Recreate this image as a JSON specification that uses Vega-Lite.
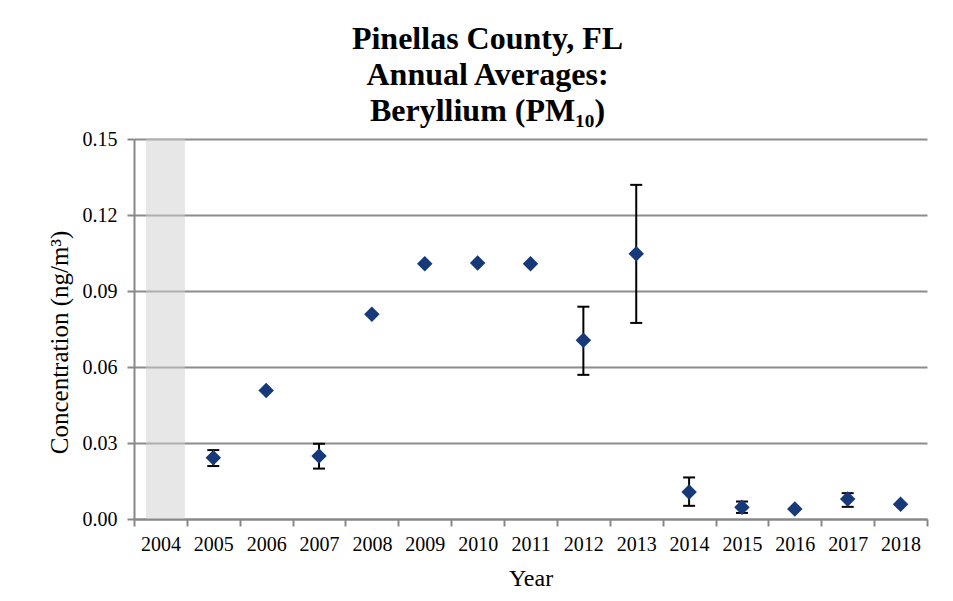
{
  "$schema": "https://vega.github.io/schema/vega-lite/v6.json",
  "autosize": "none",
  "width": 793,
  "height": 380,
  "padding": {"left": 134, "top": 139, "right": 26, "bottom": 82},
  "background": "white",
  "title": {
    "text": ["Pinellas County, FL", "Annual Averages:", "Beryllium (PM₁₀)"],
    "font": "Liberation Serif",
    "fontSize": 32,
    "fontWeight": "bold",
    "color": "black",
    "lineHeight": 36,
    "anchor": "middle",
    "frame": "bounds",
    "offset": 1
  },
  "config": {
    "view": {"stroke": null},
    "axis": {
      "labelFont": "Liberation Serif",
      "titleFont": "Liberation Serif",
      "labelColor": "black",
      "titleColor": "black",
      "titleFontWeight": "normal",
      "domainColor": "#888888",
      "domainWidth": 2,
      "tickColor": "#888888",
      "tickWidth": 2,
      "gridColor": "#8c8c8c",
      "gridWidth": 2
    }
  },
  "datasets": {
    "points": [
      {"year": "2005", "mean": 0.0242, "lo": 0.0209, "hi": 0.0272},
      {"year": "2006", "mean": 0.0507, "lo": null, "hi": null},
      {"year": "2007", "mean": 0.0249, "lo": 0.0199, "hi": 0.0297},
      {"year": "2008", "mean": 0.0808, "lo": null, "hi": null},
      {"year": "2009", "mean": 0.1008, "lo": null, "hi": null},
      {"year": "2010", "mean": 0.1011, "lo": null, "hi": null},
      {"year": "2011", "mean": 0.1008, "lo": null, "hi": null},
      {"year": "2012", "mean": 0.0706, "lo": 0.0569, "hi": 0.0838},
      {"year": "2013", "mean": 0.1047, "lo": 0.0774, "hi": 0.1319},
      {"year": "2014", "mean": 0.0107, "lo": 0.0052, "hi": 0.0164},
      {"year": "2015", "mean": 0.0046, "lo": 0.0024, "hi": 0.0069},
      {"year": "2016", "mean": 0.0039, "lo": null, "hi": null},
      {"year": "2017", "mean": 0.0079, "lo": 0.0048, "hi": 0.0102},
      {"year": "2018", "mean": 0.0058, "lo": null, "hi": null}
    ],
    "shade": [
      {"year": "2004", "top": 0.15}
    ]
  },
  "encoding": {
    "x": {
      "field": "year",
      "type": "ordinal",
      "scale": {
        "domain": ["2004","2005","2006","2007","2008","2009","2010","2011","2012","2013","2014","2015","2016","2017","2018"],
        "paddingInner": 0,
        "paddingOuter": 0
      },
      "axis": {
        "title": "Year",
        "titleFontSize": 24,
        "titlePadding": 12,
        "labelFontSize": 20,
        "labelAngle": 0,
        "labelPadding": 8,
        "tickBand": "extent",
        "tickSize": 7,
        "grid": false
      }
    }
  },
  "layer": [
    {
      "data": {"name": "shade"},
      "mark": {"type": "bar", "color": "#cfcfcf", "opacity": 0.5, "width": 39, "xOffset": 5},
      "encoding": {
        "y": {
          "field": "top",
          "type": "quantitative",
          "scale": {"domain": [0, 0.15], "nice": false},
          "axis": {
            "title": "Concentration (ng/m³)",
            "titleFontSize": 25,
            "titlePadding": 10,
            "titleY": 203,
            "labelFontSize": 20,
            "labelPadding": 10,
            "values": [0, 0.03, 0.06, 0.09, 0.12, 0.15],
            "format": ".2f",
            "tickSize": 7,
            "grid": true
          }
        }
      }
    },
    {
      "data": {"name": "points"},
      "mark": {"type": "rule", "color": "black", "strokeWidth": 2},
      "encoding": {
        "y": {"field": "lo", "type": "quantitative"},
        "y2": {"field": "hi"}
      }
    },
    {
      "data": {"name": "points"},
      "mark": {"type": "tick", "color": "black", "thickness": 2, "size": 12, "opacity": 1},
      "encoding": {
        "y": {"field": "lo", "type": "quantitative"}
      }
    },
    {
      "data": {"name": "points"},
      "mark": {"type": "tick", "color": "black", "thickness": 2, "size": 12, "opacity": 1},
      "encoding": {
        "y": {"field": "hi", "type": "quantitative"}
      }
    },
    {
      "data": {"name": "points"},
      "mark": {"type": "point", "shape": "diamond", "filled": true, "color": "#17397a", "size": 240, "opacity": 1},
      "encoding": {
        "y": {"field": "mean", "type": "quantitative"}
      }
    }
  ]
}
